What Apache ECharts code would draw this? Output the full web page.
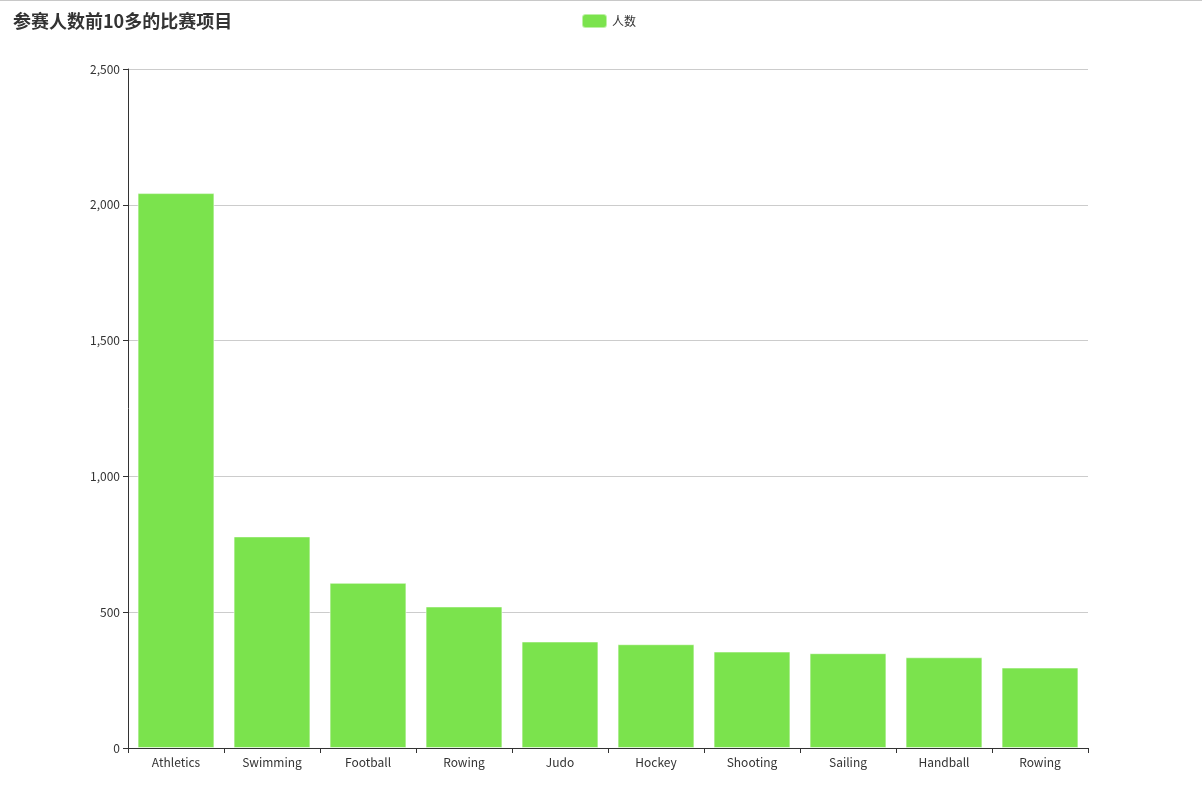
<!DOCTYPE html>
<html>
<head>
<meta charset="utf-8">
<script src="https://cdn.jsdelivr.net/npm/echarts@6/dist/echarts.min.js"></script>
<style>
html,body{margin:0;padding:0;background:#fff;}
#main{width:1202px;height:806px;position:relative;}
#topline{position:absolute;left:0;top:0;width:1202px;height:1px;background:#c8c8c8;z-index:10;}
</style>
</head>
<body>
<div id="topline"></div>
<div id="main"></div>
<script>
const titleText = '参赛人数前10多的比赛项目';
const seriesName = '人数';
const categories = ['Athletics','Swimming','Football','Rowing','Judo','Hockey','Shooting','Sailing','Handball','Rowing'];
const values = [2043, 779, 608, 521, 392, 382, 355, 349, 334, 296];

const chart = echarts.init(document.getElementById('main'));
const font = '"Noto Sans CJK SC", "Noto Sans", sans-serif';
chart.setOption({
  animation: false,
  textStyle: {fontFamily: font},
  title: {
    text: titleText, left: 8, top: 7,
    textStyle: {fontSize: 18, fontWeight: 'bold', color: '#333', fontFamily: font}
  },
  legend: {
    top: 8, left: 576, itemWidth: 25, itemHeight: 14,
    textStyle: {fontSize: 12, color: '#333', fontFamily: font},
    data: [seriesName]
  },
  grid: {left: 128, right: 114, top: 69, bottom: 58, containLabel: false},
  xAxis: {
    type: 'category',
    data: categories,
    axisLine: {lineStyle: {color: '#333'}},
    axisTick: {show: true, lineStyle: {color: '#333'}},
    axisLabel: {color: '#333', fontSize: 12, margin: 8, interval: 0}
  },
  yAxis: {
    type: 'value', min: 0, max: 2500, interval: 500,
    axisLine: {show: true, lineStyle: {color: '#333'}},
    axisTick: {show: true, lineStyle: {color: '#333'}},
    axisLabel: {color: '#333', fontSize: 12},
    splitLine: {lineStyle: {color: '#ccc'}}
  },
  series: [{
    name: seriesName,
    type: 'bar',
    data: values,
    barCategoryGap: '20%',
    itemStyle: {color: '#7be34d', borderColor: 'rgba(255,255,255,0.5)', borderWidth: 1}
  }]
});
</script>
</body>
</html>
